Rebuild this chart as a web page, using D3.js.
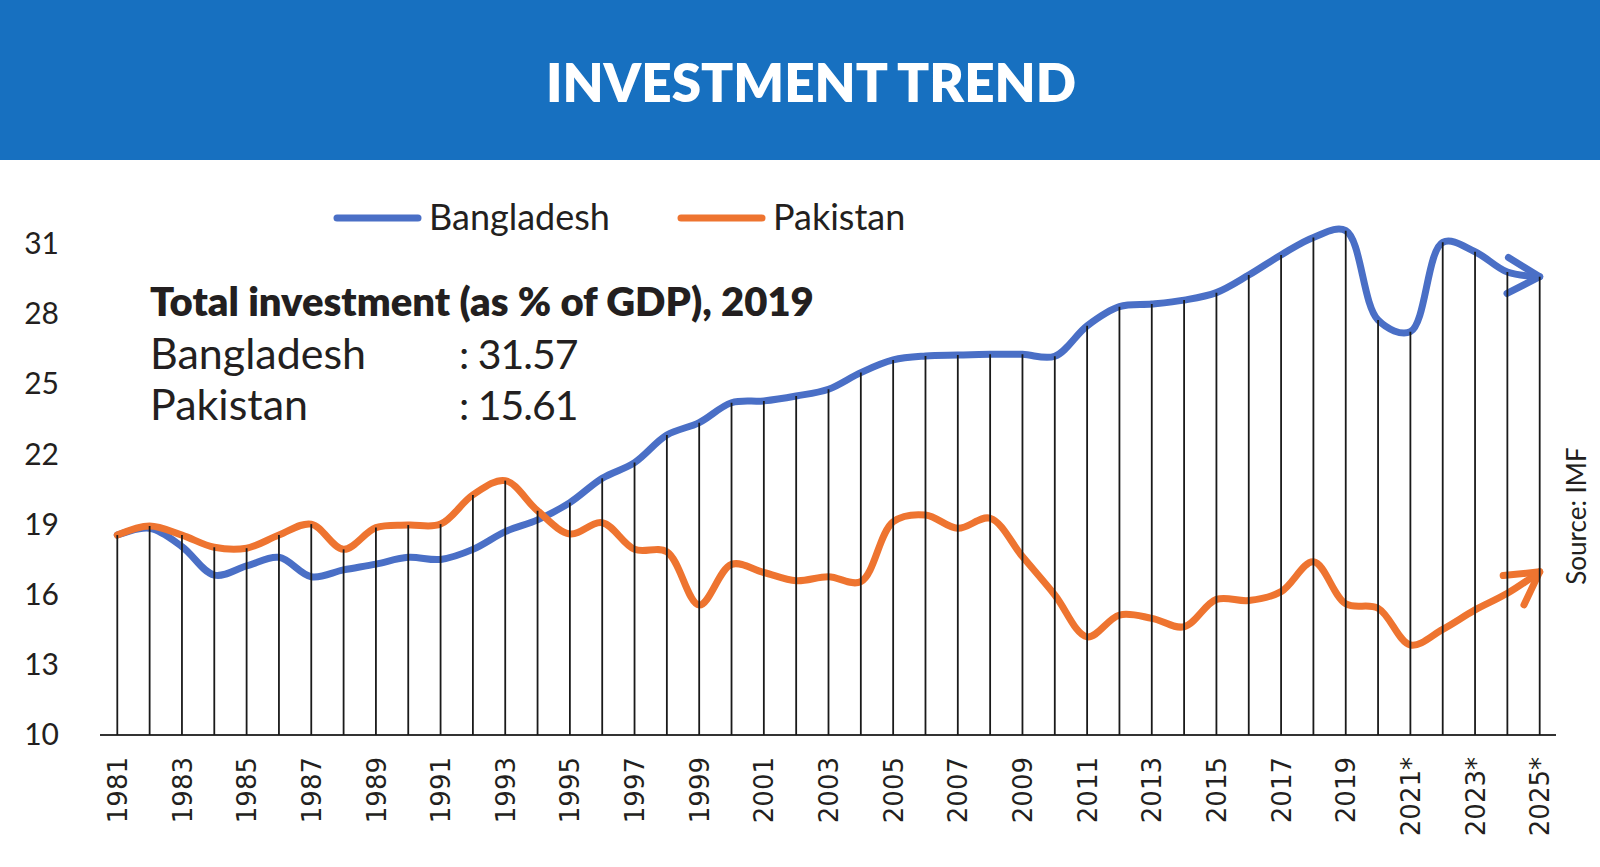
<!DOCTYPE html>
<html>
<head>
<meta charset="utf-8">
<script src="https://cdn.jsdelivr.net/npm/d3@7"></script>
<style>
  html, body { margin: 0; padding: 0; background: #ffffff; }
  svg { display: block; }
</style>
</head>
<body>
<svg id="chart" width="1600" height="867"></svg>
<script>
// ---------- data ----------
const years = ["1981","1982","1983","1984","1985","1986","1987","1988","1989","1990",
  "1991","1992","1993","1994","1995","1996","1997","1998","1999","2000",
  "2001","2002","2003","2004","2005","2006","2007","2008","2009","2010",
  "2011","2012","2013","2014","2015","2016","2017","2018","2019","2020",
  "2021*","2022*","2023*","2024*","2025*"];

const bangladesh = [18.55, 18.84, 18.06, 16.84, 17.23, 17.6, 16.77, 17.06, 17.31, 17.6,
  17.51, 17.94, 18.7, 19.2, 19.94, 20.98, 21.65, 22.83, 23.36, 24.21,
  24.29, 24.5, 24.79, 25.5, 26.04, 26.21, 26.25, 26.28, 26.28, 26.2,
  27.5, 28.32, 28.43, 28.6, 28.92, 29.67, 30.53, 31.28, 31.57, 27.75,
  27.25, 31.07, 30.67, 29.8, 29.6];

const pakistan = [18.55, 18.94, 18.55, 18.03, 17.99, 18.55, 19.02, 17.94, 18.87, 18.98,
  19.02, 20.27, 20.88, 19.59, 18.6, 19.08, 17.94, 17.84, 15.56, 17.3,
  16.95, 16.6, 16.77, 16.56, 19.12, 19.41, 18.84, 19.27, 17.63, 15.99,
  14.2, 15.13, 14.99, 14.63, 15.8, 15.75, 16.13, 17.41, 15.61, 15.42,
  13.85, 14.52, 15.35, 16.06, 16.98];

const yTicks = [10, 13, 16, 19, 22, 25, 28, 31];
const seriesNames = ["Bangladesh", "Pakistan"];
const title = "INVESTMENT TREND";
const noteTitle = "Total investment (as % of GDP), 2019";
const noteRows = [["Bangladesh", ": 31.57"], ["Pakistan", ": 15.61"]];
const sourceText = "Source: IMF";

// ---------- styles ----------
const BLUE = "#4a6fc6";
const ORANGE = "#ee7430";
const HEADER = "#1770c0";
const TEXT = "#231f20";
const colors = [BLUE, ORANGE];

const svg = d3.select("#chart");

// header band
svg.append("rect").attr("x", 0).attr("y", 0).attr("width", 1600).attr("height", 160).attr("fill", HEADER);
svg.append("text").attr("x", 811).attr("y", 102).attr("text-anchor", "middle")
  .attr("font-family", "Lato").attr("font-weight", 800).attr("font-size", 53)
  .attr("fill", "#ffffff").text(title);

// scales
const x = d3.scalePoint().domain(years).range([117.3, 1539.7]);
const y = d3.scaleLinear().domain([10, 31]).range([735, 244]);

// y axis labels
const yAxis = d3.axisLeft(y).tickValues(yTicks).tickSize(0).tickPadding(0);
const yg = svg.append("g").attr("transform", "translate(59,0)").call(yAxis);
yg.select(".domain").remove();
yg.selectAll("text").attr("font-family", "Lato").attr("font-size", 30).attr("fill", TEXT);

// x axis
const xAxis = d3.axisBottom(x).tickSize(0).tickPadding(0)
  .tickFormat((d, i) => (i % 2 === 0 ? d : ""));
const xg = svg.append("g").attr("transform", "translate(0,735)").call(xAxis);
xg.select(".domain").remove();
xg.selectAll("text")
  .attr("font-family", "DejaVu Sans").attr("font-size", 26).attr("fill", TEXT)
  .attr("text-anchor", "end")
  .attr("transform", "rotate(-90)")
  .attr("x", -22).attr("y", 0).attr("dy", "0.35em");
svg.append("line").attr("x1", 100).attr("x2", 1556).attr("y1", 735).attr("y2", 735)
  .attr("stroke", "#333").attr("stroke-width", 2.2);

// arrow markers
const defs = svg.append("defs");
colors.forEach((c, i) => {
  defs.append("marker").attr("id", "arrow" + i)
    .attr("markerUnits", "userSpaceOnUse")
    .attr("viewBox", "-44 -26 52 52").attr("markerWidth", 52).attr("markerHeight", 52)
    .attr("refX", 0).attr("refY", 0).attr("orient", "auto")
    .append("path").attr("d", "M-32,-18 L0,0 L-32,18")
    .attr("fill", "none").attr("stroke", c).attr("stroke-width", 7)
    .attr("stroke-linecap", "round").attr("stroke-linejoin", "round");
});

// series lines
const line = d3.line().x((d, i) => x(years[i])).y(d => y(d)).curve(d3.curveCatmullRom.alpha(0.5));
[bangladesh, pakistan].forEach((s, i) => {
  svg.append("path").datum(s).attr("d", line)
    .attr("fill", "none").attr("stroke", colors[i]).attr("stroke-width", 7)
    .attr("stroke-linecap", "round").attr("stroke-linejoin", "round")
    .attr("marker-end", "url(#arrow" + i + ")");
});

// drop lines (to the higher series)
svg.append("g").selectAll("line").data(years).join("line")
  .attr("x1", d => x(d)).attr("x2", d => x(d))
  .attr("y1", (d, i) => y(Math.max(bangladesh[i], pakistan[i])))
  .attr("y2", 735)
  .attr("stroke", "#1a1a1a").attr("stroke-width", 1.8);

// legend
const legend = svg.append("g");
[[337, 429], [681, 773]].forEach((p, i) => {
  legend.append("line").attr("x1", p[0]).attr("x2", p[0] + 81).attr("y1", 218).attr("y2", 218)
    .attr("stroke", colors[i]).attr("stroke-width", 7).attr("stroke-linecap", "round");
  legend.append("text").attr("x", p[1]).attr("y", 230)
    .attr("font-family", "Lato").attr("font-size", 36).attr("fill", TEXT).text(seriesNames[i]);
});

// annotation
svg.append("text").attr("x", 150).attr("y", 316)
  .attr("font-family", "Lato").attr("font-weight", 800).attr("font-size", 40).attr("fill", TEXT)
  .text(noteTitle);
noteRows.forEach((r, i) => {
  svg.append("text").attr("x", 150).attr("y", 369 + i * 51)
    .attr("font-family", "Lato").attr("font-size", 43).attr("fill", TEXT).text(r[0]);
  svg.append("text").attr("x", 459).attr("y", 369 + i * 51)
    .attr("font-family", "Lato").attr("font-size", 41).attr("letter-spacing", -1)
    .attr("fill", TEXT).text(r[1]);
});

// source
svg.append("text").attr("transform", "translate(1586,516) rotate(-90)")
  .attr("text-anchor", "middle")
  .attr("font-family", "Lato").attr("font-size", 26).attr("fill", TEXT).text(sourceText);
</script>
</body>
</html>
